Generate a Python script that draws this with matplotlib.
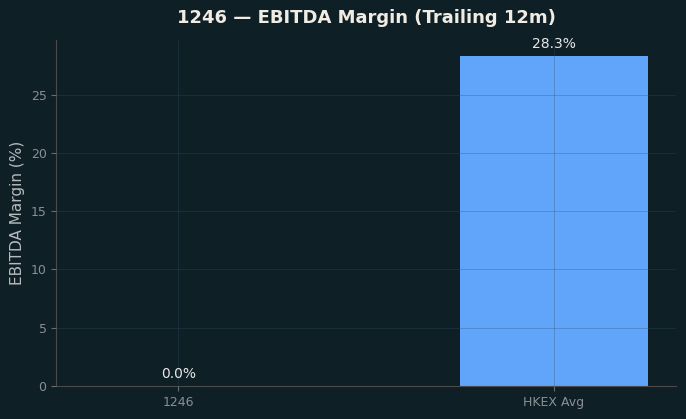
import matplotlib
matplotlib.use("Agg")
import matplotlib.pyplot as plt

categories = ["1246", "HKEX Avg"]
values = [0.0, 28.3]
labels = ["0.0%", "28.3%"]

bg = "#0f1f26"
fig, ax = plt.subplots(figsize=(6.86, 4.19), dpi=100)
fig.patch.set_facecolor(bg)
ax.set_facecolor(bg)

bars = ax.bar(categories, values, width=0.5, color="#60a5fa", zorder=2)
for b, v, t in zip(bars, values, labels):
    ax.text(b.get_x() + b.get_width() / 2, v + 0.45, t, ha="center", va="bottom",
            color="#e8e8e8", fontsize=10, zorder=4)

ax.grid(True, color="#2f4f66", alpha=0.3, linewidth=0.7, zorder=3)
ax.set_axisbelow(False)
for s in ["top", "right"]:
    ax.spines[s].set_visible(False)
for s in ["left", "bottom"]:
    ax.spines[s].set_color("#4a4a4a")
ax.tick_params(colors="#8a8f94", labelsize=9)
ax.tick_params(axis="both", color="#6a6a6a")
ax.set_ylabel("EBITDA Margin (%)", color="#b8bcc0", fontsize=11)
ax.set_title("1246 — EBITDA Margin (Trailing 12m)", color="#f0ece4", fontsize=13,
             fontweight="bold", pad=12)

fig.subplots_adjust(left=0.082, right=0.985, top=0.905, bottom=0.079)
fig.savefig("out.png", dpi=100, facecolor=bg)
